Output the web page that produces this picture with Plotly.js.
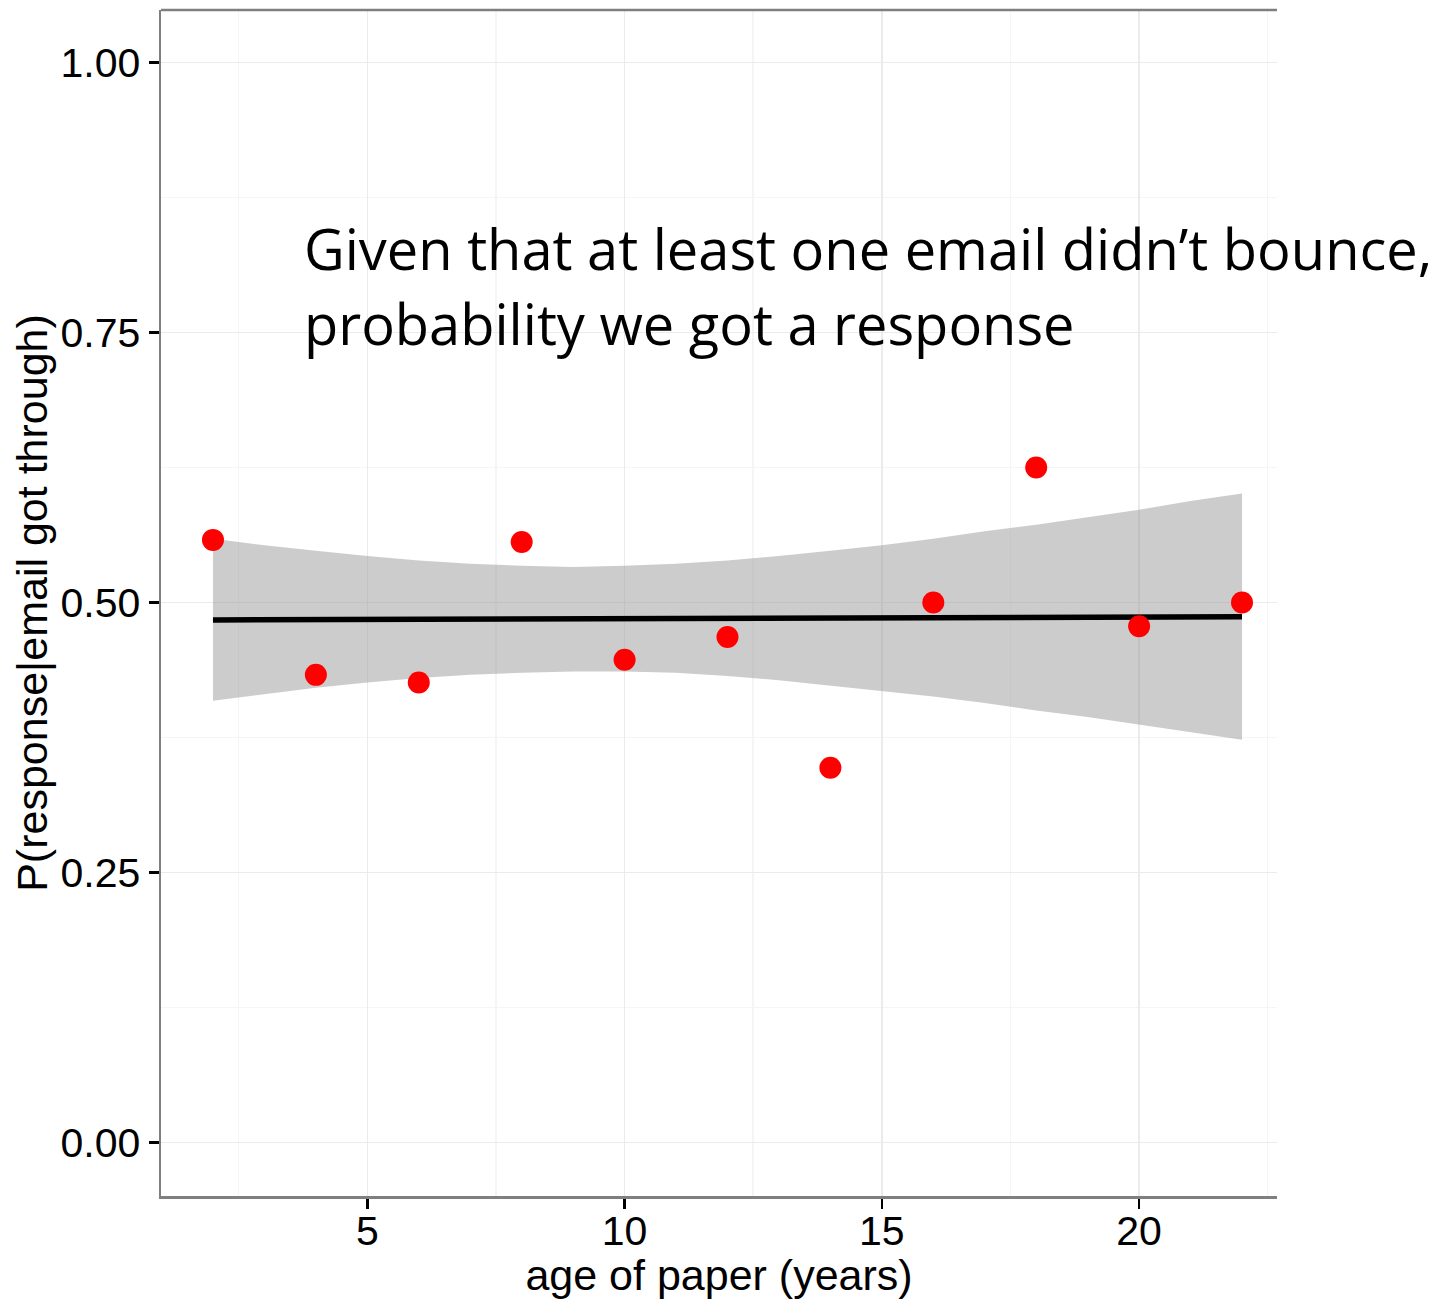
<!DOCTYPE html>
<html>
<head>
<meta charset="utf-8">
<script src="https://cdn.plot.ly/plotly-3.0.1.min.js"></script>
<style>
  html, body { margin: 0; padding: 0; background: #ffffff; }
  #chart { width: 1454px; height: 1299px; }
</style>
</head>
<body>
<div id="chart"></div>
<script>
// age of paper (years)
const ages = [2, 4, 6, 8, 10, 12, 14, 16, 18, 20, 22];
// P(response | email got through)
const responseRate = [0.558, 0.433, 0.426, 0.556, 0.447, 0.468, 0.347, 0.500, 0.625, 0.478, 0.500];

// linear fit with confidence band
const fitX = [2, 3, 4, 5, 6, 7, 8, 9, 10, 11, 12, 13, 14, 15, 16, 17, 18, 19, 20, 21, 22];
const fitY = [0.4838, 0.4840, 0.4841, 0.4843, 0.4844, 0.4846, 0.4847, 0.4849, 0.4850, 0.4852, 0.4853,
              0.4855, 0.4856, 0.4858, 0.4859, 0.4861, 0.4862, 0.4864, 0.4865, 0.4867, 0.4868];
const bandUpper = [0.559, 0.553, 0.548, 0.543, 0.539, 0.536, 0.534, 0.533, 0.534, 0.536, 0.539,
                   0.543, 0.548, 0.553, 0.559, 0.566, 0.572, 0.579, 0.586, 0.594, 0.601];
const bandLower = [0.409, 0.415, 0.421, 0.426, 0.430, 0.433, 0.435, 0.436, 0.436, 0.435, 0.432,
                   0.428, 0.423, 0.418, 0.413, 0.407, 0.400, 0.394, 0.387, 0.380, 0.373];

const xTickVals = [5, 10, 15, 20];
const xTickText = ['5', '10', '15', '20'];
const yTickVals = [0, 0.25, 0.5, 0.75, 1.0];
const yTickText = ['0.00', '0.25', '0.50', '0.75', '1.00'];

const noteLines = ['Given that at least one email didn\u2019t bounce,', 'probability we got a response'];

const FONT = '"Liberation Sans", Arial, Helvetica, sans-serif';
const NOTE_FONT = '"Open Sans", Lato, sans-serif';

const traces = [
  {
    x: fitX, y: bandLower, type: 'scatter', mode: 'lines',
    line: { width: 0, color: 'rgba(0,0,0,0)' }, hoverinfo: 'skip', showlegend: false
  },
  {
    x: fitX, y: bandUpper, type: 'scatter', mode: 'lines', fill: 'tonexty',
    fillcolor: 'rgba(153,153,153,0.5)',
    line: { width: 0, color: 'rgba(0,0,0,0)' }, hoverinfo: 'skip', showlegend: false
  },
  {
    x: fitX, y: fitY, type: 'scatter', mode: 'lines',
    line: { color: '#000000', width: 5.5 }, showlegend: false
  },
  {
    x: ages, y: responseRate, type: 'scatter', mode: 'markers',
    marker: { color: '#ff0000', size: 22 }, showlegend: false
  }
];

const layout = {
  width: 1454, height: 1299,
  margin: { l: 161, r: 177, t: 10, b: 103, pad: 0 },
  paper_bgcolor: '#ffffff', plot_bgcolor: '#ffffff',
  font: { family: FONT, color: '#000000', size: 41 },
  showlegend: false,
  xaxis: {
    range: [0.99, 22.68],
    tickmode: 'array', tickvals: xTickVals, ticktext: xTickText,
    ticks: 'outside', ticklen: 10, tickwidth: 2.5, tickcolor: '#000000',
    ticklabelstandoff: -13,
    tickfont: { family: FONT, size: 41, color: '#000000' },
    showgrid: true, gridcolor: '#ebebeb', gridwidth: 1.5,
    minor: { dtick: 2.5, tick0: 0, showgrid: true, gridcolor: '#f5f5f5', gridwidth: 1.5, ticks: '' },
    showline: true, linecolor: '#7f7f7f', linewidth: 2.5,
    zeroline: false,
    title: { text: 'age of paper (years)', font: { family: FONT, size: 43, color: '#000000' }, standoff: 0 }
  },
  yaxis: {
    range: [-0.0497, 1.0488],
    tickmode: 'array', tickvals: yTickVals, ticktext: yTickText,
    ticks: 'outside', ticklen: 10, tickwidth: 2.5, tickcolor: '#000000',
    tickfont: { family: FONT, size: 41, color: '#000000' },
    showgrid: true, gridcolor: '#ebebeb', gridwidth: 1.5,
    minor: { dtick: 0.125, tick0: 0, showgrid: true, gridcolor: '#f5f5f5', gridwidth: 1.5, ticks: '' },
    showline: true, linecolor: '#7f7f7f', linewidth: 2.5,
    zeroline: false,
    title: { text: 'P(response|email got through)', font: { family: FONT, size: 43, color: '#000000' }, standoff: 0 }
  },
  shapes: [
    { type: 'line', xref: 'paper', yref: 'paper', x0: 0, x1: 1, y0: 1, y1: 1,
      line: { color: '#7f7f7f', width: 2.5 } }
  ],
  annotations: [
    { xref: 'paper', yref: 'paper', x: 0.1263, y: 0.7993, xanchor: 'left', yanchor: 'middle',
      text: noteLines[0], showarrow: false,
      font: { family: NOTE_FONT, size: 56, color: '#000000' } },
    { xref: 'paper', yref: 'paper', x: 0.1263, y: 0.7360, xanchor: 'left', yanchor: 'middle',
      text: noteLines[1], showarrow: false,
      font: { family: NOTE_FONT, size: 56, color: '#000000' } }
  ]
};

Plotly.newPlot('chart', traces, layout, { displayModeBar: false, staticPlot: true });
</script>
</body>
</html>
